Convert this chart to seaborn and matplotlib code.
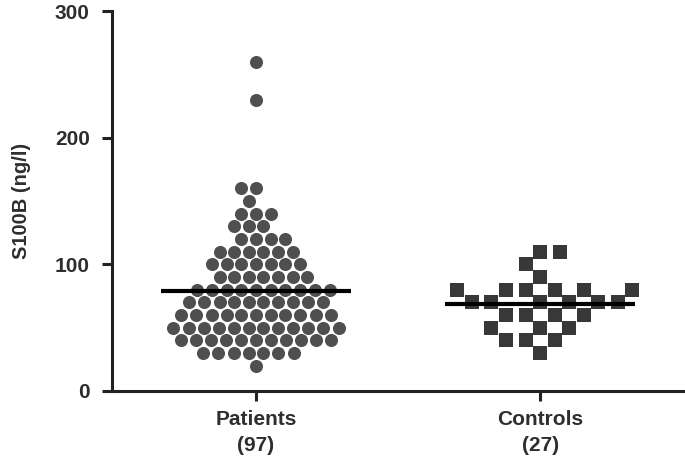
import numpy as np
import pandas as pd
import matplotlib
matplotlib.use("Agg")
import matplotlib.pyplot as plt
import seaborn as sns

# Data (S100B, ng/l)
groups = ["Patients", "Controls"]
group_n = [97, 27]

patient_levels = [260, 230, 160, 150, 140, 130, 120, 110, 100, 90, 80, 70, 60, 50, 40, 30, 20]
patient_counts = [1, 1, 2, 1, 3, 3, 4, 6, 7, 7, 10, 10, 11, 12, 11, 7, 1]

control_levels = [110, 100, 90, 80, 70, 60, 50, 40, 30]
control_counts = [2, 1, 1, 6, 6, 4, 3, 3, 1]

y_ticks = [0, 100, 200, 300]

patients = np.repeat(patient_levels, patient_counts)
controls = np.repeat(control_levels, control_counts)

df = pd.DataFrame({
    "group": ["Patients"] * len(patients) + ["Controls"] * len(controls),
    "s100b": np.concatenate([patients, controls]),
})

sns.set_style("ticks")
plt.rcParams["font.family"] = ["Liberation Sans", "DejaVu Sans"]
plt.rcParams["font.weight"] = "bold"

fig = plt.figure(figsize=(6.85, 4.66), dpi=100)
ax = fig.add_axes([0.1635, 0.161, 0.834, 0.815])

# swarm laid out with a wider spacing (Prism-like), markers shrunk afterwards
sns.swarmplot(data=df[df.group == "Patients"], x="group", y="s100b", order=groups,
              color="#4f4f4f", marker="o", size=10.4, linewidth=0, ax=ax, warn_thresh=1)
n_pat = len(ax.collections)
sns.swarmplot(data=df[df.group == "Controls"], x="group", y="s100b", order=groups,
              color="#383838", marker="s", size=13.5, linewidth=0, ax=ax, warn_thresh=1)

ax.set_xlim(-0.507, 1.504)
ax.set_ylim(0, 300)

# run the swarm layout once, then keep those positions and shrink the markers
fig.canvas.draw()
for i, coll in enumerate(ax.collections):
    if "draw" in coll.__dict__:
        del coll.draw
    coll.set_sizes([9.4 ** 2] if i < n_pat else [10.3 ** 2])

# mean lines
for i, g in enumerate(groups):
    m = df.loc[df.group == g, "s100b"].mean()
    ax.hlines(m, i - 0.335, i + 0.335, color="black", linewidth=3, zorder=5)

ax.set_yticks(y_ticks)
ax.set_xticks(range(len(groups)))
ax.set_xticklabels([f"{g}\n({n})" for g, n in zip(groups, group_n)],
                   fontsize=15, fontweight="bold", color="#2e2e2e", linespacing=1.45)
ax.tick_params(axis="y", labelsize=15, colors="#2e2e2e", pad=9)
ax.tick_params(axis="x", pad=7)
ax.tick_params(axis="both", width=2.2, length=7, color="#222222")
for lab in ax.get_yticklabels():
    lab.set_fontweight("bold")
ax.set_xlabel("")
ax.set_ylabel("S100B (ng/l)", fontsize=14.5, fontweight="bold", color="#2e2e2e", labelpad=17)

sns.despine(ax=ax)
for side in ["left", "bottom"]:
    ax.spines[side].set_linewidth(2.2)
    ax.spines[side].set_color("#222222")

plt.savefig("out.png", dpi=100)
